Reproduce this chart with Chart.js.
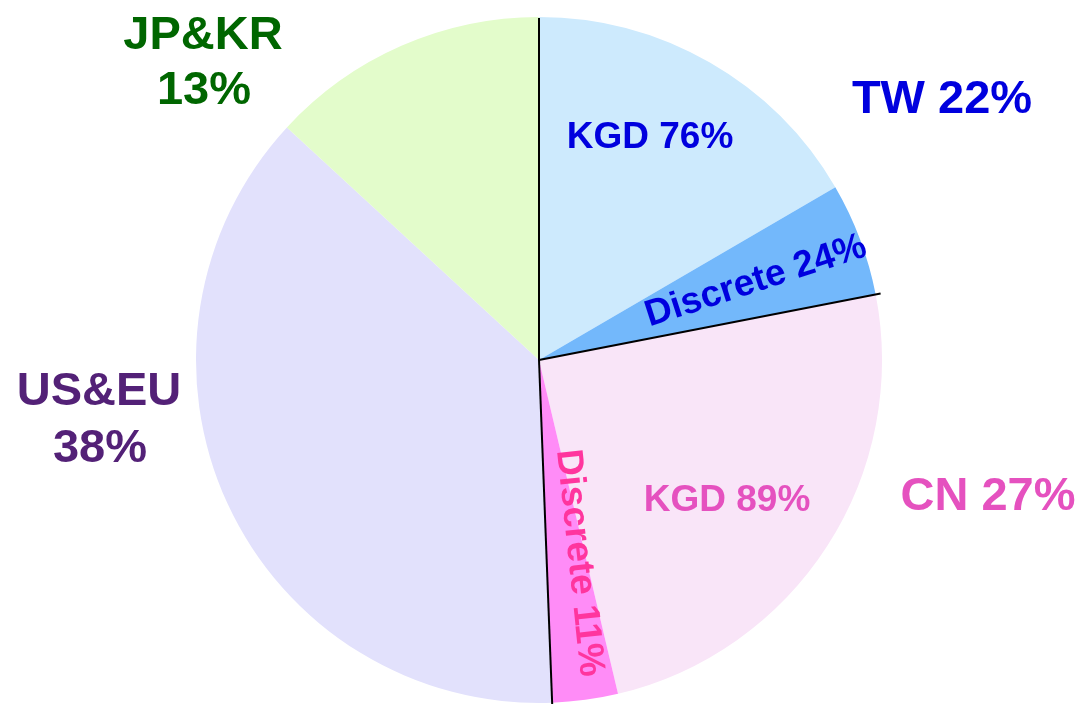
<!DOCTYPE html>
<html>
<head>
<meta charset="utf-8">
<script src="https://cdn.jsdelivr.net/npm/chart.js@4/dist/chart.umd.min.js"></script>
<style>
  html, body { margin: 0; padding: 0; background: #ffffff; }
  #wrap { width: 1084px; height: 704px; }
</style>
</head>
<body>
<div id="wrap"><canvas id="c" width="1084" height="704"></canvas></div>
<script>
// ---- data ----
const sliceNames = ["TW KGD", "TW Discrete", "CN KGD", "CN Discrete", "US&EU", "JP&KR"];
const sliceValues = [16.6, 5.34, 24.36, 3.09, 37.47, 13.14];
const sliceColors = ["#cdeafd", "#73b8fb", "#f9e5f8", "#ff8cf7", "#e2e1fc", "#e3fccb"];
const regionLabels = ["TW 22%", "CN 27%", "US&EU", "38%", "JP&KR", "13%"];
const subLabels = ["KGD 76%", "Discrete 24%", "KGD 89%", "Discrete 11%"];
// indices of slices whose starting edge gets a black divider
const dividerStarts = [0, 2, 4];

const FONT = '"Liberation Sans", Arial, Helvetica, sans-serif';

const overlay = {
  id: 'overlay',
  afterDatasetsDraw(chart) {
    const ctx = chart.ctx;
    const arcs = chart.getDatasetMeta(0).data;
    // divider lines
    ctx.save();
    ctx.strokeStyle = '#000000';
    ctx.lineWidth = 2;
    dividerStarts.forEach((i, k) => {
      const a = arcs[i];
      const len = a.outerRadius + (k === 0 ? -1 : 5);
      ctx.beginPath();
      ctx.moveTo(a.x, a.y);
      ctx.lineTo(a.x + Math.cos(a.startAngle) * len, a.y + Math.sin(a.startAngle) * len);
      ctx.stroke();
    });
    ctx.restore();

    function txt(s, x, y, size, color, rot, weight) {
      ctx.save();
      ctx.font = (weight || 'bold') + ' ' + size + 'px ' + FONT;
      ctx.fillStyle = color;
      ctx.textAlign = 'center';
      ctx.textBaseline = 'alphabetic';
      ctx.translate(x, y);
      if (rot) ctx.rotate(rot * Math.PI / 180);
      ctx.fillText(s, 0, 0);
      ctx.restore();
    }
    const blue = '#0000de', pink = '#e551bf', hot = '#ff359e', purple = '#532177', green = '#006600';
    // region labels
    txt(regionLabels[0], 942, 113, 47, blue);
    txt(regionLabels[1], 988, 510, 47, pink);
    txt(regionLabels[2], 99, 405, 47, purple);
    txt(regionLabels[3], 100, 462, 47, purple);
    txt(regionLabels[4], 203, 49, 47, green);
    txt(regionLabels[5], 204, 104, 47, green);
    // sub labels
    txt(subLabels[0], 650, 148, 37, blue);
    txt(subLabels[1], 759, 291, 37, blue, -18);
    txt(subLabels[2], 727, 511, 37, pink);
    txt(subLabels[3], 569, 564, 37, hot, 84);
  }
};

new Chart(document.getElementById('c'), {
  type: 'pie',
  data: {
    labels: sliceNames,
    datasets: [{
      data: sliceValues,
      backgroundColor: sliceColors,
      borderWidth: 0
    }]
  },
  options: {
    responsive: false,
    animation: false,
    devicePixelRatio: 1,
    layout: { padding: { left: 196, right: 202, top: 17, bottom: 1 } },
    plugins: {
      legend: { display: false },
      tooltip: { enabled: false }
    }
  },
  plugins: [overlay]
});
</script>
</body>
</html>
